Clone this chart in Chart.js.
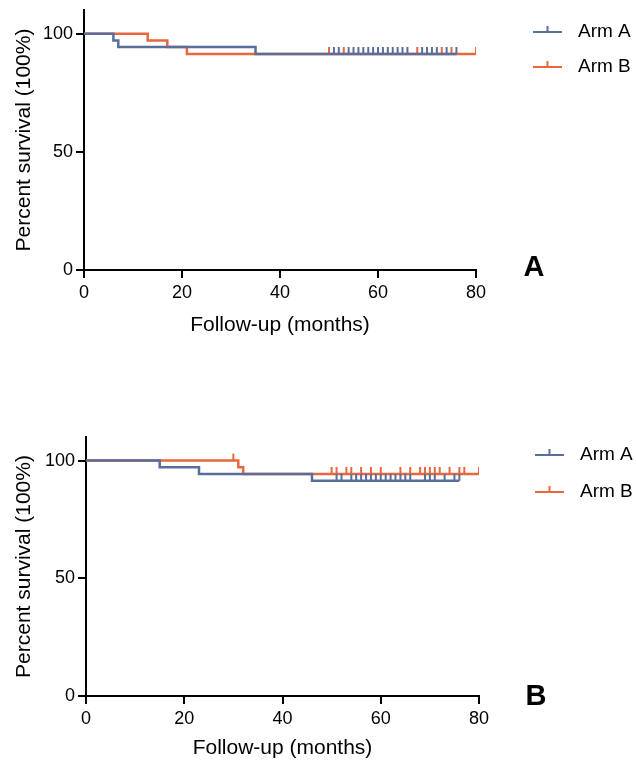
<!DOCTYPE html>
<html>
<head>
<meta charset="utf-8">
<script src="https://cdn.jsdelivr.net/npm/chart.js@4.4.1/dist/chart.umd.min.js"></script>
<style>
  html, body { margin: 0; padding: 0; background: #fff; }
  #wrap { position: relative; width: 636px; height: 763px; overflow: hidden; }
  .panel { position: absolute; left: 0; }
</style>
</head>
<body>
<div id="wrap">
  <canvas id="chartA" class="panel" style="top:0px" width="636" height="345"></canvas>
  <canvas id="chartB" class="panel" style="top:420px" width="636" height="343"></canvas>
</div>
<script>
// panel A - event times (months) and survival (%) after each event
const eventMonthsA1 = [0, 6, 7, 35];
const survivalA1 = [100, 97.1, 94.3, 91.4];
const censorMonthsA1 = [51, 52, 54, 55, 56, 57, 58, 59, 60, 61, 62, 63, 64, 65, 66, 69, 70, 71, 72, 74, 76];
const eventMonthsA2 = [0, 13, 17, 21];
const survivalA2 = [100, 97.1, 94.3, 91.4];
const censorMonthsA2 = [50, 53, 68, 73, 75, 80];

// panel B
const eventMonthsB1 = [0, 15, 23, 46];
const survivalB1 = [100, 97.1, 94.3, 91.4];
const censorMonthsB1 = [51, 52, 54, 55, 56, 57, 58, 59, 60, 61, 62, 63, 64, 65, 66, 69, 70, 71, 73, 75, 76];
const eventMonthsB2 = [0, 31, 32];
const survivalB2 = [100, 97.1, 94.3];
const censorMonthsB2 = [30, 50, 51, 53, 54, 56, 58, 60, 64, 66, 68, 69, 70, 71, 72, 74, 76, 77, 80];

const armLabels = ['Arm A', 'Arm B'];
const armColors = ['#5a6e9e', '#e8673d'];
const xTicks = [0, 20, 40, 60, 80];
const yTicks = [0, 50, 100];

const FONT = '"Liberation Sans", Arial, sans-serif';

// merge events + censored obs into one step curve
function kmPoints(times, surv, censors) {
    const pts = times.map((t, i) => ({x: t, y: surv[i], c: false}));
    censors.forEach(t => {
        let y = surv[0];
        times.forEach((e, i) => { if (e <= t) y = surv[i]; });
        pts.push({x: t, y: y, c: true});
    });
    pts.sort((a, b) => a.x - b.x);
    return pts;
}

// small upward tick used for censored points
function censorMark(color) {
    const c = document.createElement('canvas');
    c.width = 4;
    c.height = 16;
    const g = c.getContext('2d');
    g.strokeStyle = color;
    g.lineWidth = 2;
    g.beginPath();
    g.moveTo(2, 1);
    g.lineTo(2, 8);
    g.stroke();
    return c;
}

function makeDataset(i, pts) {
    const mark = censorMark(armColors[i]);
    return {
        label: armLabels[i],
        data: pts,
        borderColor: armColors[i],
        backgroundColor: armColors[i],
        borderWidth: 2.5,
        stepped: true,
        fill: false,
        pointStyle: mark,
        pointRadius: ctx => (ctx.raw && ctx.raw.c) ? 3 : 0,
        pointHoverRadius: ctx => (ctx.raw && ctx.raw.c) ? 3 : 0
    };
}

const sideLegend = {
    id: 'sideLegend',
    afterDraw(chart, args, opts) {
        const ctx = chart.ctx;
        ctx.save();
        chart.data.datasets.forEach((ds, i) => {
            const y = opts.top + i * opts.gap;
            ctx.strokeStyle = ds.borderColor;
            ctx.lineWidth = 2;
            ctx.beginPath();
            ctx.moveTo(opts.left, y);
            ctx.lineTo(opts.left + 29, y);
            ctx.moveTo(opts.left + 14.5, y);
            ctx.lineTo(opts.left + 14.5, y - 6);
            ctx.stroke();
            ctx.fillStyle = '#000';
            ctx.font = '19px ' + FONT;
            ctx.textAlign = 'left';
            ctx.textBaseline = 'middle';
            ctx.fillText(ds.label, opts.left + 45, y);
        });
        ctx.font = 'bold 29px ' + FONT;
        ctx.textAlign = 'center';
        ctx.textBaseline = 'middle';
        ctx.fillText(opts.letter, opts.letterX, opts.letterY);
        ctx.restore();
    }
};

function makeChart(id, sets, lay) {
    return new Chart(document.getElementById(id), {
        type: 'line',
        data: {
            datasets: sets.map((s, i) => makeDataset(i, kmPoints(s[0], s[1], s[2])))
        },
        plugins: [sideLegend],
        options: {
            responsive: false,
            animation: false,
            layout: {padding: {top: lay.top, right: lay.right, left: 0, bottom: 0}},
            plugins: {
                legend: {display: false},
                tooltip: {enabled: false},
                sideLegend: lay.legend
            },
            scales: {
                x: {
                    type: 'linear',
                    min: 0,
                    max: 80,
                    afterBuildTicks: s => { s.ticks = xTicks.map(v => ({value: v})); },
                    afterFit: s => { s.height = lay.xHeight; },
                    border: {color: '#000', width: 2},
                    grid: {drawOnChartArea: false, color: '#000', lineWidth: 2, tickLength: 8},
                    ticks: {color: '#000', font: {family: FONT, size: 18}, padding: 4, maxRotation: 0},
                    title: {display: true, text: 'Follow-up (months)', color: '#000',
                        font: {family: FONT, size: 21}, padding: {top: 0, bottom: lay.xTitlePad}}
                },
                y: {
                    min: 0,
                    max: 110,
                    afterBuildTicks: s => { s.ticks = yTicks.map(v => ({value: v})); },
                    afterFit: s => { s.width = lay.yWidth; s.paddingTop = 0; },
                    border: {color: '#000', width: 2},
                    grid: {drawOnChartArea: false, color: '#000', lineWidth: 2, tickLength: 8},
                    ticks: {color: '#000', font: {family: FONT, size: 18}, padding: 3},
                    title: {display: true, text: 'Percent survival (100%)', color: '#000',
                        font: {family: FONT, size: 21}, padding: {top: 12, bottom: 0}}
                }
            }
        }
    });
}

makeChart('chartA', [
    [eventMonthsA1, survivalA1, censorMonthsA1],
    [eventMonthsA2, survivalA2, censorMonthsA2]
], {
    top: 10, right: 160, xHeight: 75, yWidth: 84, xTitlePad: 7,
    legend: {left: 533, top: 32, gap: 35, letter: 'A', letterX: 534, letterY: 268}
});

makeChart('chartB', [
    [eventMonthsB1, survivalB1, censorMonthsB1],
    [eventMonthsB2, survivalB2, censorMonthsB2]
], {
    top: 17, right: 157, xHeight: 67, yWidth: 86, xTitlePad: 2,
    legend: {left: 535, top: 35, gap: 37, letter: 'B', letterX: 536, letterY: 277}
});
</script>
</body>
</html>
